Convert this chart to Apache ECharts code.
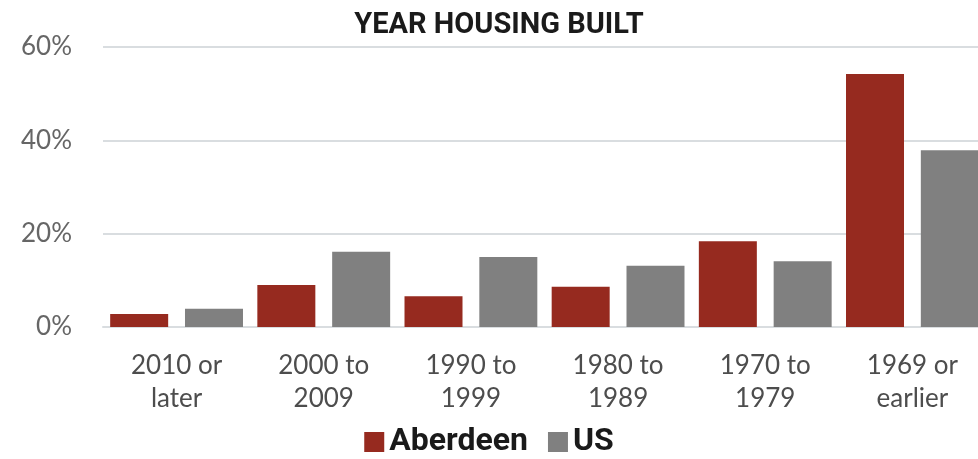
<!DOCTYPE html>
<html>
<head>
<meta charset="utf-8">
<script src="https://cdn.jsdelivr.net/npm/echarts@6/dist/echarts.min.js"></script>
<style>
  html, body { margin: 0; padding: 0; background: #ffffff; }
  #chart { width: 978px; height: 459px; }
</style>
</head>
<body>
<div id="chart"></div>
<script>
// Share of housing units by year built
const categories = ['2010 or\nlater', '2000 to\n2009', '1990 to\n1999', '1980 to\n1989', '1970 to\n1979', '1969 or\nearlier'];
const aberdeen = [2.8, 9.0, 6.6, 8.6, 18.4, 54.2];
const us = [3.9, 16.1, 15.0, 13.1, 14.1, 37.9];
const yTicks = [0, 20, 40, 60];

const chart = echarts.init(document.getElementById('chart'));
chart.setOption({
  animation: false,
  title: {
    text: 'YEAR HOUSING BUILT',
    left: 494,
    textAlign: 'center',
    top: 6,
    textStyle: {
      fontFamily: '"Liberation Sans Narrow", "Roboto", sans-serif',
      fontWeight: 'bold',
      fontSize: 29,
      color: '#1a1a1a'
    }
  },
  legend: {
    bottom: -4,
    left: 'center',
    itemWidth: 20,
    itemHeight: 20,
    itemGap: 20,
    icon: 'rect',
    textStyle: {
      fontFamily: '"Liberation Sans Narrow", "Roboto", sans-serif',
      fontWeight: 'bold',
      fontSize: 32,
      color: '#1a1a1a'
    },
    data: ['Aberdeen', 'US']
  },
  grid: { left: 103, right: -8, top: 47, bottom: 132, outerBoundsMode: 'none' },
  xAxis: {
    type: 'category',
    data: categories,
    axisTick: { show: false },
    axisLine: { lineStyle: { color: '#d9dde0', width: 2 } },
    axisLabel: {
      margin: 22,
      lineHeight: 33,
      fontFamily: 'Lato, "Noto Sans", sans-serif',
      fontSize: 26,
      color: '#4d4d4d'
    }
  },
  yAxis: {
    type: 'value',
    min: yTicks[0],
    max: yTicks[yTicks.length - 1],
    interval: 20,
    axisLine: { show: false },
    axisTick: { show: false },
    splitLine: { lineStyle: { color: '#d9dde0', width: 2 } },
    axisLabel: {
      margin: 31,
      formatter: '{value}%',
      fontFamily: 'Lato, "Noto Sans", sans-serif',
      fontSize: 26,
      color: '#666666'
    }
  },
  series: [
    {
      name: 'Aberdeen',
      type: 'bar',
      data: aberdeen,
      barWidth: 58,
      barGap: '29%',
      itemStyle: { color: '#962a1f' }
    },
    {
      name: 'US',
      type: 'bar',
      data: us,
      barWidth: 58,
      itemStyle: { color: '#808080' }
    }
  ]
});
</script>
</body>
</html>
